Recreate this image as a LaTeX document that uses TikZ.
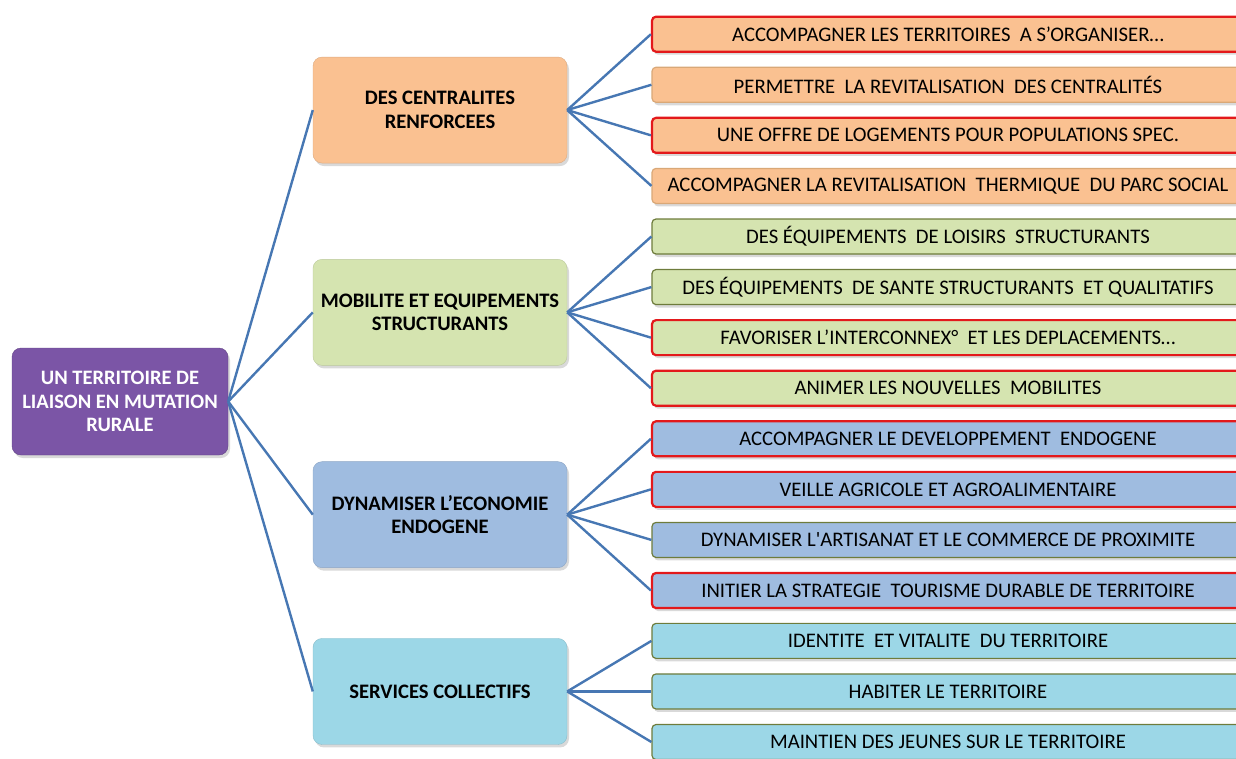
\documentclass[tikz,border=0pt]{standalone}
\usepackage{fontspec}
\setmainfont{Carlito}
\usetikzlibrary{shadows}

\definecolor{linkblue}{HTML}{4777B3}
\definecolor{rootfill}{HTML}{7B55A6}
\definecolor{orangefill}{HTML}{FAC191}
\definecolor{greenfill}{HTML}{D5E4B0}
\definecolor{bluefill}{HTML}{9FBCE0}
\definecolor{cyanfill}{HTML}{9CD7E7}
\definecolor{redline}{HTML}{E3191B}
\definecolor{oliveline}{HTML}{6E7C3C}
\definecolor{tanline}{HTML}{D9A877}

\begin{document}
\begin{tikzpicture}
[
    x=1pt, y=1pt,
    grow'=east,
    edge from parent/.style={draw=linkblue, line width=2.4pt},
    edge from parent path={(\tikzparentnode.east) -- (\tikzchildnode.west)},
    level 1/.style={level distance=320pt, sibling distance=202.3pt},
    level 2/.style={level distance=508pt, sibling distance=50.57pt},
    shade/.style={drop shadow={shadow xshift=2pt, shadow yshift=-3pt, opacity=.3}},
    rootbox/.style={shade, fill=rootfill, draw=rootfill!80!black, rounded corners=9pt,
        minimum width=216pt, minimum height=107pt, align=center, text=white,
        font=\bfseries\fontsize{20.5}{23.5}\selectfont},
    themebox/.style={shade, draw=#1!88!black, fill=#1, rounded corners=9pt,
        minimum width=254pt, minimum height=106pt, align=center,
        font=\bfseries\fontsize{20.6}{23.5}\selectfont},
    leaf/.style={shade, fill=#1, rounded corners=4pt, minimum width=592pt,
        minimum height=35pt, font=\fontsize{20.7}{24}\selectfont},
    redleaf/.style={draw=redline, line width=2.2pt},
    plainleaf/.style={draw=oliveline, line width=1.2pt},
]
\useasboundingbox (0,0) rectangle (1236,-758);
\clip (0,0) rectangle (1236,-758);
\node [rootbox] (territoire) at (120,-401.5)
{UN TERRITOIRE DE\\LIAISON EN MUTATION\\RURALE}
    child[yshift=-12pt] {node[themebox=orangefill] (centralites)
{DES CENTRALITES\\RENFORCEES}
    child {node[leaf=orangefill, redleaf] (organiser)
{ACCOMPAGNER LES TERRITOIRES\ \ A S’ORGANISER…}}
    child {node[leaf=orangefill, plainleaf, draw=tanline] (revitalisation)
{PERMETTRE\ \ LA REVITALISATION\ \ DES CENTRALITÉS}}
    child {node[leaf=orangefill, redleaf] (logements)
{UNE OFFRE DE LOGEMENTS POUR POPULATIONS SPEC.}}
    child {node[leaf=orangefill, plainleaf, draw=tanline] (thermique)
{ACCOMPAGNER LA REVITALISATION\ \ THERMIQUE\ \ DU PARC SOCIAL}}
}   child[yshift=-12pt] {node[themebox=greenfill] (mobilite)
{MOBILITE ET EQUIPEMENTS\\STRUCTURANTS}
    child {node[leaf=greenfill, plainleaf] (loisirs)
{DES ÉQUIPEMENTS\ \ DE LOISIRS\ \ STRUCTURANTS}}
    child {node[leaf=greenfill, plainleaf] (sante)
{DES ÉQUIPEMENTS\ \ DE SANTE STRUCTURANTS\ \ ET QUALITATIFS}}
    child {node[leaf=greenfill, redleaf] (interconnex)
{FAVORISER L’INTERCONNEX°\ \ ET LES DEPLACEMENTS…}}
    child {node[leaf=greenfill, redleaf] (mobilites)
{ANIMER LES NOUVELLES\ \ MOBILITES}}
}   child[yshift=-12pt] {node[themebox=bluefill] (economie)
{DYNAMISER L’ECONOMIE\\ENDOGENE}
    child {node[leaf=bluefill, redleaf] (endogene)
{ACCOMPAGNER LE DEVELOPPEMENT\ \ ENDOGENE}}
    child {node[leaf=bluefill, redleaf] (agricole)
{VEILLE AGRICOLE ET AGROALIMENTAIRE}}
    child {node[leaf=bluefill, plainleaf] (artisanat)
{DYNAMISER L\textquotesingle ARTISANAT ET LE COMMERCE DE PROXIMITE}}
    child {node[leaf=bluefill, redleaf] (tourisme)
{INITIER LA STRATEGIE\ \ TOURISME DURABLE DE TERRITOIRE}}
}   child[yshift=13.5pt] {node[themebox=cyanfill] (services)
{SERVICES COLLECTIFS}
    child {node[leaf=cyanfill, plainleaf] (identite)
{IDENTITE\ \ ET VITALITE\ \ DU TERRITOIRE}}
    child {node[leaf=cyanfill, plainleaf] (habiter)
{HABITER LE TERRITOIRE}}
    child {node[leaf=cyanfill, plainleaf] (jeunes)
{MAINTIEN DES JEUNES SUR LE TERRITOIRE}}
};
\end{tikzpicture}
\end{document}
